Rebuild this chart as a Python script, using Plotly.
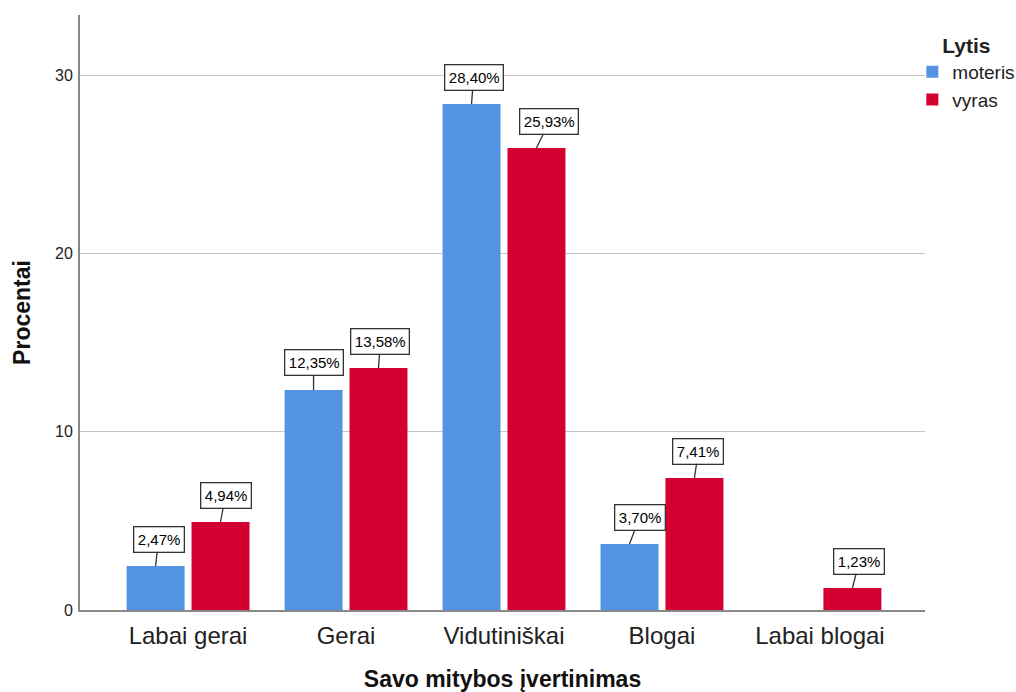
import plotly.graph_objects as go

categories = ["Labai gerai", "Gerai", "Vidutiniškai", "Blogai", "Labai blogai"]
moteris = [2.47, 12.35, 28.40, 3.70, None]
vyras = [4.94, 13.58, 25.93, 7.41, 1.23]
yticks = [0, 10, 20, 30]

# label horizontal nudges (px) for the value callouts
nudge_m = [3, 0, 2, 10, 0]
nudge_v = [5, 2, 13, 4, 7]

BLUE = "#5294e2"
RED = "#d50032"
FONT = "Liberation Sans, Arial, sans-serif"

fig = go.Figure()
fig.add_trace(go.Bar(x=list(range(5)), y=moteris, name="moteris", marker_color=BLUE,
                     width=0.367, offset=-0.389, marker_line_width=0))
fig.add_trace(go.Bar(x=list(range(5)), y=vyras, name="vyras", marker_color=RED,
                     width=0.367, offset=0.022, marker_line_width=0))

def fmt(v):
    return f"{v:.2f}".replace(".", ",") + "%"

for vals, off, nud in ((moteris, -0.389, nudge_m), (vyras, 0.022, nudge_v)):
    for i, v in enumerate(vals):
        if v is None:
            continue
        fig.add_annotation(x=i + off + 0.367 / 2, y=v, xref="x", yref="y",
                           text=fmt(v), showarrow=True,
                           arrowhead=0, arrowwidth=1.3, arrowcolor="#333333",
                           ax=nud[i], ay=-27, bgcolor="white", bordercolor="#333333",
                           borderwidth=1.3, borderpad=3.5,
                           font=dict(size=15, color="#000000", family=FONT))

fig.update_layout(
    width=1016, height=692,
    margin=dict(l=80, r=91, t=15, b=82, autoexpand=False),
    plot_bgcolor="white", paper_bgcolor="white",
    font=dict(family=FONT, color="#000000"),
    showlegend=True,
    legend=dict(x=0.985, y=0.982, xanchor="left", yanchor="top",
                bgcolor="rgba(0,0,0,0)",
                title=dict(text="<b>Lytis</b>", font=dict(size=21), side="top center"),
                font=dict(size=19, color="#222222")),
    xaxis=dict(range=[-0.684, 4.665], tickmode="array", tickvals=list(range(5)),
               ticktext=categories, tickfont=dict(size=24, color="#222222"),
               showline=True, linecolor="#888888", linewidth=2, showgrid=False,
               ticks="outside", ticklen=3, tickcolor="rgba(0,0,0,0)", zeroline=False,
               title=dict(text="<b>Savo mitybos įvertinimas</b>",
                          font=dict(size=23, color="#111111"), standoff=33)),
    yaxis=dict(range=[0, 33.4], tickmode="array", tickvals=yticks,
               tickfont=dict(size=16, color="#222222"),
               showline=True, linecolor="#888888", linewidth=2,
               showgrid=True, gridcolor="#c4c4c4", gridwidth=1, zeroline=False,
               ticks="outside", ticklen=2, tickcolor="rgba(0,0,0,0)",
               title=dict(text="<b>Procentai</b>",
                          font=dict(size=23, color="#111111"), standoff=18)),
)

fig.write_html("out.html")
